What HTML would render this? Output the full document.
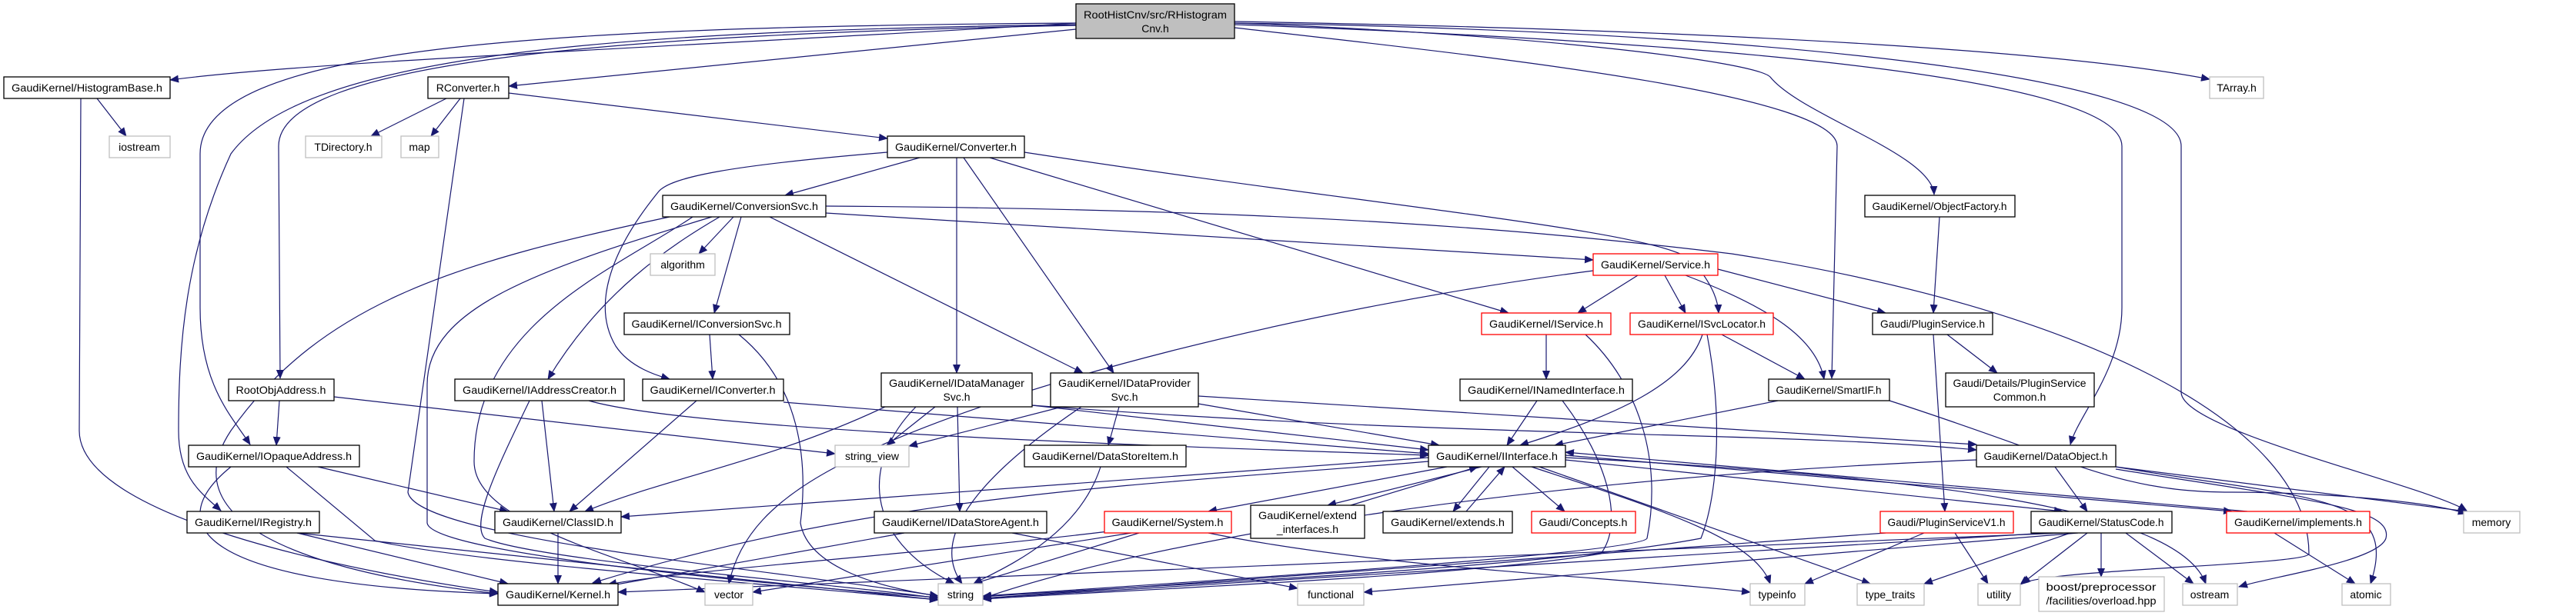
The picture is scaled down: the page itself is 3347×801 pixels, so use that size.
<!DOCTYPE html>
<html><head><meta charset="utf-8"><style>
html,body{margin:0;padding:0;background:#fff;}
svg{display:block}
text{font-family:"Liberation Sans",sans-serif;font-size:14px;fill:#000}
.e{fill:none;stroke:#191970;stroke-width:1.2;marker-end:url(#a)}
.n{fill:#fff;stroke:#000;stroke-width:1.3}
.g{fill:#fff;stroke:#bfbfbf;stroke-width:1.3}
.r{fill:#fff;stroke:#ff0000;stroke-width:1.3}
</style></head><body>
<svg width="3347" height="801" viewBox="0 0 3347 801" xmlns="http://www.w3.org/2000/svg">
<defs><marker id="a" markerUnits="userSpaceOnUse" markerWidth="12" markerHeight="10" refX="11" refY="5" orient="auto"><path d="M0,0 L12,5 L0,10 z" fill="#191970"/></marker></defs>
<g>
<!-- root edges -->
<path class="e" d="M1398,30 C900,60 400,80 221,104"/>
<path class="e" d="M1398,38 L661,112"/>
<path class="e" d="M1398,33 C800,45 362,80 362,190 L364,492"/>
<path class="e" d="M1398,30 C700,35 260,60 260,200 L260,400 C260,500 300,540 325,578"/>
<path class="e" d="M1398,32 C800,40 395,70 300,200 C240,330 232,450 232,560 C232,620 260,640 287,664"/>
<path class="e" d="M1604,36 C1900,70 2387,120 2387,190 L2380,492"/>
<path class="e" d="M1604,30 C2000,45 2280,80 2300,100 C2340,150 2510,200 2513,253"/>
<path class="e" d="M1604,32 C2100,50 2757,90 2757,190 L2757,400 C2757,480 2700,540 2690,578"/>
<path class="e" d="M1604,28 C2300,40 2700,70 2871,103"/>
<path class="e" d="M1604,30 C2300,40 2834,100 2834,190 L2834,510 C2834,560 3150,630 3205,664"/>
<!-- other edges -->
<path class="e" d="M126,128 L164,177"/>
<path class="e" d="M105,128 L103,560 C103,680 500,750 647,770"/>
<path class="e" d="M580,128 L482,177"/>
<path class="e" d="M598,128 L560,177"/>
<path class="e" d="M603,128 L530,640 C540,700 1000,740 1219,775"/>
<path class="e" d="M661,121 L1153,180"/>
<path class="e" d="M1195,205 L1020,254"/>
<path class="e" d="M1153,198 C950,215 870,230 855,250 C790,330 770,400 800,450 C820,480 860,490 870,493"/>
<path class="e" d="M1243,205 L1243,485"/>
<path class="e" d="M1252,205 L1447,485"/>
<path class="e" d="M1000,282 L1407,485"/>
<path class="e" d="M1286,205 L1960,407"/>
<path class="e" d="M1331,198 C1800,270 2160,300 2200,340 C2225,370 2232,390 2233,407"/>
<path class="e" d="M953,282 L908,330"/>
<path class="e" d="M963,282 L928,407"/>
<path class="e" d="M935,282 C870,320 780,380 712,493"/>
<path class="e" d="M1073,277 L2070,338"/>
<path class="e" d="M1073,268 C1700,272 2000,300 2250,330 C2700,400 3000,550 3000,720 C3000,735 2650,740 2625,760"/>
<path class="e" d="M870,282 C600,340 420,390 300,560 C220,680 400,745 647,772"/>
<path class="e" d="M925,282 C700,350 555,400 555,500 L555,680 C560,720 1000,760 1219,777"/>
<path class="e" d="M900,282 C800,350 616,420 616,600 C616,680 800,720 916,770"/>
<path class="e" d="M922,435 L926,493"/>
<path class="e" d="M960,435 C1040,500 1050,600 1040,680 C1050,740 1150,765 1219,775"/>
<path class="e" d="M905,521 L740,665"/>
<path class="e" d="M1018,523 L1856,590"/>
<path class="e" d="M704,521 L720,665"/>
<path class="e" d="M688,521 C650,600 610,680 630,700 C700,730 1100,760 1219,778"/>
<path class="e" d="M765,521 C900,560 1500,580 1856,592"/>
<path class="e" d="M363,521 L359,579"/>
<path class="e" d="M434,516 L1085,590"/>
<path class="e" d="M413,607 L660,665"/>
<path class="e" d="M300,607 C210,680 250,760 647,772"/>
<path class="e" d="M372,607 L487,703 C600,730 1000,760 1219,780"/>
<path class="e" d="M386,693 L660,759"/>
<path class="e" d="M386,693 L1219,780"/>
<path class="e" d="M725,693 L725,759"/>
<path class="e" d="M1215,529 L1152,579"/>
<path class="e" d="M1190,529 C1120,600 1120,700 1240,759"/>
<path class="e" d="M1150,529 C1000,600 870,620 760,665"/>
<path class="e" d="M1244,529 L1247,665"/>
<path class="e" d="M1341,527 L1856,585"/>
<path class="e" d="M1341,527 C1900,570 2300,560 2568,585"/>
<path class="e" d="M1380,529 L1181,580"/>
<path class="e" d="M1454,529 L1440,579"/>
<path class="e" d="M1405,529 C1300,600 1200,690 1250,759"/>
<path class="e" d="M1557,525 L1870,579"/>
<path class="e" d="M1557,515 L2568,578"/>
<path class="e" d="M1430,607 C1400,700 1300,740 1265,759"/>
<path class="e" d="M1175,693 L790,762"/>
<path class="e" d="M1315,693 L1686,765"/>
<path class="e" d="M2128,358 L2050,407"/>
<path class="e" d="M2163,358 L2190,407"/>
<path class="e" d="M2190,358 C2300,400 2360,440 2370,493"/>
<path class="e" d="M2232,350 L2450,407"/>
<path class="e" d="M2070,352 C1700,400 1300,500 1100,600 C1000,650 960,700 947,759"/>
<path class="e" d="M2009,435 L2009,493"/>
<path class="e" d="M2060,435 C2130,500 2160,600 2140,700 C2130,720 1500,760 1277,775"/>
<path class="e" d="M2237,435 L2345,493"/>
<path class="e" d="M2212,435 C2190,500 2100,540 1975,579"/>
<path class="e" d="M2218,435 C2240,550 2230,650 2210,700 C2000,740 1500,760 1277,776"/>
<path class="e" d="M1997,521 L1958,579"/>
<path class="e" d="M2030,521 C2090,600 2110,680 2080,720 C1900,750 1500,765 1277,779"/>
<path class="e" d="M2310,521 L2020,579"/>
<path class="e" d="M2455,521 C2700,600 2750,640 2900,640 C3000,640 3150,650 3205,668"/>
<path class="e" d="M2520,282 L2512,407"/>
<path class="e" d="M2530,435 L2595,485"/>
<path class="e" d="M2512,435 L2527,665"/>
<path class="e" d="M2450,693 L1277,778"/>
<path class="e" d="M2500,693 L2345,759"/>
<path class="e" d="M2540,693 L2583,759"/>
<path class="e" d="M1880,607 L1570,665"/>
<path class="e" d="M1925,607 L1725,657"/>
<path class="e" d="M1755,657 L1920,607"/>
<path class="e" d="M1935,607 L1888,665"/>
<path class="e" d="M1905,665 L1955,607"/>
<path class="e" d="M1965,607 L2033,665"/>
<path class="e" d="M1856,595 L807,672"/>
<path class="e" d="M1856,600 C1500,630 1150,640 770,758"/>
<path class="e" d="M1990,607 C2150,660 2280,700 2300,759"/>
<path class="e" d="M2000,607 L2430,759"/>
<path class="e" d="M2034,595 C2500,620 2830,660 2866,759"/>
<path class="e" d="M2034,598 L2680,665"/>
<path class="e" d="M2034,592 L2900,665"/>
<path class="e" d="M2920,665 L2034,588"/>
<path class="e" d="M2955,693 L3060,759"/>
<path class="e" d="M1440,691 C1200,720 900,740 790,760"/>
<path class="e" d="M1480,693 L1265,759"/>
<path class="e" d="M1470,693 L978,770"/>
<path class="e" d="M1570,693 C1800,740 2100,750 2274,770"/>
<path class="e" d="M2670,607 L2712,665"/>
<path class="e" d="M2749,607 L3205,665"/>
<path class="e" d="M2568,598 C2000,620 1500,700 1277,778"/>
<path class="e" d="M2749,607 C3000,650 3120,640 3080,759"/>
<path class="e" d="M2749,610 C3000,650 3110,660 3100,700 C3090,730 2950,750 2909,763"/>
<path class="e" d="M2660,693 L1277,778"/>
<path class="e" d="M2700,693 L1772,770"/>
<path class="e" d="M2712,693 L2627,759"/>
<path class="e" d="M2690,693 L2500,759"/>
<path class="e" d="M2730,693 L2730,750"/>
<path class="e" d="M2762,693 L2850,759"/>
<path class="e" d="M2680,693 L803,770"/>
</g>
<g>
<rect x="1398" y="5" width="206" height="45" fill="#bfbfbf" stroke="#000" stroke-width="1.3"/>
<text x="1501" y="24" text-anchor="middle" textLength="186" lengthAdjust="spacingAndGlyphs">RootHistCnv/src/RHistogram</text>
<text x="1501" y="42" text-anchor="middle">Cnv.h</text>

<rect class="n" x="5" y="100" width="216" height="28"/><text x="113" y="119" text-anchor="middle" textLength="196" lengthAdjust="spacingAndGlyphs">GaudiKernel/HistogramBase.h</text>
<rect class="g" x="142" y="177" width="79" height="28"/><text x="181" y="196" text-anchor="middle">iostream</text>
<rect class="n" x="556" y="100" width="105" height="28"/><text x="608" y="119" text-anchor="middle">RConverter.h</text>
<rect class="g" x="397" y="177" width="99" height="28"/><text x="446" y="196" text-anchor="middle">TDirectory.h</text>
<rect class="g" x="521" y="177" width="49" height="28"/><text x="545" y="196" text-anchor="middle">map</text>
<rect class="g" x="2871" y="100" width="70" height="28"/><text x="2906" y="119" text-anchor="middle">TArray.h</text>
<rect class="n" x="1153" y="177" width="178" height="28"/><text x="1242" y="196" text-anchor="middle" textLength="158" lengthAdjust="spacingAndGlyphs">GaudiKernel/Converter.h</text>
<rect class="n" x="861" y="254" width="212" height="28"/><text x="967" y="273" text-anchor="middle" textLength="192" lengthAdjust="spacingAndGlyphs">GaudiKernel/ConversionSvc.h</text>
<rect class="n" x="2423" y="254" width="195" height="28"/><text x="2520" y="273" text-anchor="middle" textLength="175" lengthAdjust="spacingAndGlyphs">GaudiKernel/ObjectFactory.h</text>
<rect class="g" x="845" y="330" width="84" height="28"/><text x="887" y="349" text-anchor="middle">algorithm</text>
<rect class="r" x="2070" y="330" width="162" height="28"/><text x="2151" y="349" text-anchor="middle" textLength="142" lengthAdjust="spacingAndGlyphs">GaudiKernel/Service.h</text>
<rect class="r" x="1925" y="407" width="168" height="28"/><text x="2009" y="426" text-anchor="middle" textLength="148" lengthAdjust="spacingAndGlyphs">GaudiKernel/IService.h</text>
<rect class="r" x="2118" y="407" width="186" height="28"/><text x="2211" y="426" text-anchor="middle" textLength="166" lengthAdjust="spacingAndGlyphs">GaudiKernel/ISvcLocator.h</text>
<rect class="n" x="2433" y="407" width="156" height="28"/><text x="2511" y="426" text-anchor="middle" textLength="136" lengthAdjust="spacingAndGlyphs">Gaudi/PluginService.h</text>
<rect class="n" x="811" y="407" width="215" height="28"/><text x="918" y="426" text-anchor="middle" textLength="195" lengthAdjust="spacingAndGlyphs">GaudiKernel/IConversionSvc.h</text>
<rect class="n" x="297" y="493" width="137" height="28"/><text x="365" y="512" text-anchor="middle" textLength="117" lengthAdjust="spacingAndGlyphs">RootObjAddress.h</text>
<rect class="n" x="591" y="493" width="220" height="28"/><text x="701" y="512" text-anchor="middle" textLength="200" lengthAdjust="spacingAndGlyphs">GaudiKernel/IAddressCreator.h</text>
<rect class="n" x="835" y="493" width="183" height="28"/><text x="926" y="512" text-anchor="middle" textLength="163" lengthAdjust="spacingAndGlyphs">GaudiKernel/IConverter.h</text>
<rect class="n" x="1145" y="485" width="196" height="44"/><text x="1243" y="503" text-anchor="middle" textLength="176" lengthAdjust="spacingAndGlyphs">GaudiKernel/IDataManager</text><text x="1243" y="521" text-anchor="middle">Svc.h</text>
<rect class="n" x="1365" y="485" width="192" height="44"/><text x="1461" y="503" text-anchor="middle" textLength="172" lengthAdjust="spacingAndGlyphs">GaudiKernel/IDataProvider</text><text x="1461" y="521" text-anchor="middle">Svc.h</text>
<rect class="n" x="1897" y="493" width="224" height="28"/><text x="2009" y="512" text-anchor="middle" textLength="204" lengthAdjust="spacingAndGlyphs">GaudiKernel/INamedInterface.h</text>
<rect class="n" x="2298" y="493" width="157" height="28"/><text x="2376" y="512" text-anchor="middle" textLength="137" lengthAdjust="spacingAndGlyphs">GaudiKernel/SmartIF.h</text>
<rect class="n" x="2528" y="485" width="193" height="44"/><text x="2624" y="503" text-anchor="middle" textLength="173" lengthAdjust="spacingAndGlyphs">Gaudi/Details/PluginService</text><text x="2624" y="521" text-anchor="middle">Common.h</text>
<rect class="n" x="245" y="579" width="222" height="28"/><text x="356" y="598" text-anchor="middle" textLength="202" lengthAdjust="spacingAndGlyphs">GaudiKernel/IOpaqueAddress.h</text>
<rect class="g" x="1085" y="579" width="96" height="28"/><text x="1133" y="598" text-anchor="middle">string_view</text>
<rect class="n" x="1331" y="579" width="210" height="28"/><text x="1436" y="598" text-anchor="middle" textLength="190" lengthAdjust="spacingAndGlyphs">GaudiKernel/DataStoreItem.h</text>
<rect class="n" x="1856" y="579" width="178" height="28"/><text x="1945" y="598" text-anchor="middle" textLength="158" lengthAdjust="spacingAndGlyphs">GaudiKernel/IInterface.h</text>
<rect class="n" x="2568" y="579" width="181" height="28"/><text x="2658" y="598" text-anchor="middle" textLength="161" lengthAdjust="spacingAndGlyphs">GaudiKernel/DataObject.h</text>
<rect class="n" x="243" y="665" width="172" height="28"/><text x="329" y="684" text-anchor="middle" textLength="152" lengthAdjust="spacingAndGlyphs">GaudiKernel/IRegistry.h</text>
<rect class="n" x="643" y="665" width="164" height="28"/><text x="725" y="684" text-anchor="middle" textLength="144" lengthAdjust="spacingAndGlyphs">GaudiKernel/ClassID.h</text>
<rect class="n" x="1136" y="665" width="224" height="28"/><text x="1248" y="684" text-anchor="middle" textLength="204" lengthAdjust="spacingAndGlyphs">GaudiKernel/IDataStoreAgent.h</text>
<rect class="r" x="1435" y="665" width="165" height="28"/><text x="1517" y="684" text-anchor="middle" textLength="145" lengthAdjust="spacingAndGlyphs">GaudiKernel/System.h</text>
<rect class="n" x="1625" y="657" width="148" height="43"/><text x="1699" y="675" text-anchor="middle" textLength="128" lengthAdjust="spacingAndGlyphs">GaudiKernel/extend</text><text x="1699" y="693" text-anchor="middle">_interfaces.h</text>
<rect class="n" x="1797" y="665" width="168" height="28"/><text x="1881" y="684" text-anchor="middle" textLength="148" lengthAdjust="spacingAndGlyphs">GaudiKernel/extends.h</text>
<rect class="r" x="1990" y="665" width="135" height="28"/><text x="2057" y="684" text-anchor="middle" textLength="115" lengthAdjust="spacingAndGlyphs">Gaudi/Concepts.h</text>
<rect class="r" x="2443" y="665" width="173" height="28"/><text x="2529" y="684" text-anchor="middle" textLength="153" lengthAdjust="spacingAndGlyphs">Gaudi/PluginServiceV1.h</text>
<rect class="n" x="2639" y="665" width="183" height="28"/><text x="2730" y="684" text-anchor="middle" textLength="163" lengthAdjust="spacingAndGlyphs">GaudiKernel/StatusCode.h</text>
<rect class="r" x="2893" y="665" width="186" height="28"/><text x="2986" y="684" text-anchor="middle" textLength="166" lengthAdjust="spacingAndGlyphs">GaudiKernel/implements.h</text>
<rect class="g" x="3201" y="665" width="73" height="28"/><text x="3237" y="684" text-anchor="middle">memory</text>
<rect class="n" x="647" y="759" width="156" height="28"/><text x="725" y="778" text-anchor="middle" textLength="136" lengthAdjust="spacingAndGlyphs">GaudiKernel/Kernel.h</text>
<rect class="g" x="916" y="759" width="62" height="28"/><text x="947" y="778" text-anchor="middle">vector</text>
<rect class="g" x="1219" y="759" width="58" height="28"/><text x="1248" y="778" text-anchor="middle">string</text>
<rect class="g" x="1686" y="759" width="86" height="28"/><text x="1729" y="778" text-anchor="middle">functional</text>
<rect class="g" x="2274" y="759" width="71" height="28"/><text x="2309" y="778" text-anchor="middle">typeinfo</text>
<rect class="g" x="2413" y="759" width="87" height="28"/><text x="2456" y="778" text-anchor="middle">type_traits</text>
<rect class="g" x="2570" y="759" width="55" height="28"/><text x="2597" y="778" text-anchor="middle">utility</text>
<rect class="g" x="2649" y="750" width="163" height="45"/><text x="2730" y="768" text-anchor="middle" textLength="143" lengthAdjust="spacingAndGlyphs">boost/preprocessor</text><text x="2730" y="786" text-anchor="middle" textLength="143" lengthAdjust="spacingAndGlyphs">/facilities/overload.hpp</text>
<rect class="g" x="2836" y="759" width="71" height="28"/><text x="2871" y="778" text-anchor="middle">ostream</text>
<rect class="g" x="3043" y="759" width="63" height="28"/><text x="3074" y="778" text-anchor="middle">atomic</text>
</g>
</svg>
</body></html>
